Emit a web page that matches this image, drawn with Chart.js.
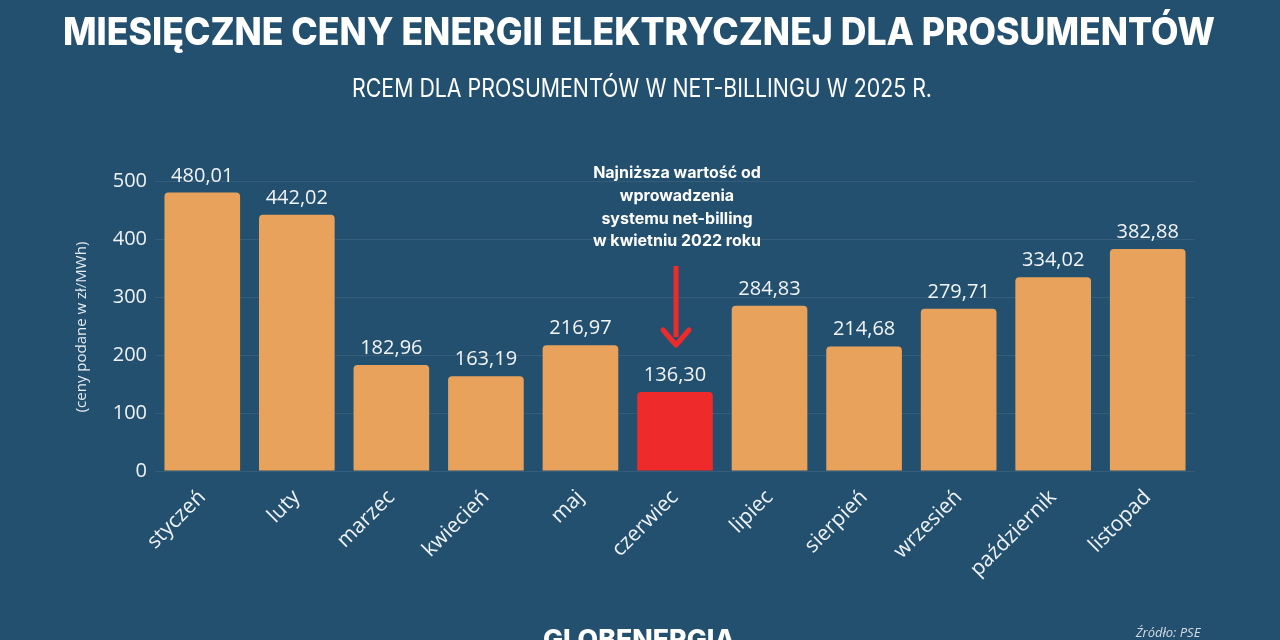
<!DOCTYPE html>
<html>
<head>
<meta charset="utf-8">
<script src="https://cdn.jsdelivr.net/npm/chart.js@4.4.1/dist/chart.umd.min.js"></script>
<style>
  html, body { margin: 0; padding: 0; background: #24506f; }
  #wrap { width: 1280px; height: 640px; position: relative; }
</style>
</head>
<body>
<div id="wrap"><canvas id="chart" width="1280" height="640"></canvas></div>
<script>
  // chart data
  const months = ['styczeń', 'luty', 'marzec', 'kwiecień', 'maj', 'czerwiec', 'lipiec', 'sierpień', 'wrzesień', 'październik', 'listopad'];
  const prices = [480.01, 442.02, 182.96, 163.19, 216.97, 136.30, 284.83, 214.68, 279.71, 334.02, 382.88];
  const highlightIndex = 5;
  const noteLines = ['Najniższa wartość od', 'wprowadzenia', 'systemu net-billing', 'w kwietniu 2022 roku'];

  const orange = '#e9a25b';
  const red = '#ee2a2a';
  const barColors = prices.map((v, i) => i === highlightIndex ? red : orange);

  // fit text horizontally to a given width
  function fitText(ctx, text, x, y, width) {
    const w = ctx.measureText(text).width;
    ctx.save();
    ctx.translate(x, y);
    ctx.scale(width / w, 1);
    ctx.fillText(text, 0, 0);
    ctx.restore();
  }

  const decor = {
    id: 'decor',
    afterDraw(chart) {
      const ctx = chart.ctx;
      ctx.save();
      ctx.fillStyle = '#ffffff';
      ctx.textAlign = 'center';
      ctx.textBaseline = 'alphabetic';

      // titles
      ctx.font = '800 38px Inter';
      fitText(ctx, 'MIESIĘCZNE CENY ENERGII ELEKTRYCZNEJ DLA PROSUMENTÓW', 639, 45, 1152);
      ctx.font = '400 25px Inter';
      fitText(ctx, 'RCEM DLA PROSUMENTÓW W NET-BILLINGU W 2025 R.', 642, 97, 580);

      // value labels
      const meta = chart.getDatasetMeta(0);
      ctx.font = '20px "Open Sans"';
      ctx.fillStyle = '#f2f4f6';
      meta.data.forEach((bar, i) => {
        ctx.fillText(prices[i].toFixed(2).replace('.', ','), bar.x, bar.y - 11);
      });

      // annotation
      const hb = meta.data[highlightIndex];
      ctx.fillStyle = '#ffffff';
      ctx.font = '700 16px Inter';
      const lineY = [178, 201, 224, 246];
      noteLines.forEach((t, i) => ctx.fillText(t, hb.x + 2, lineY[i]));

      // arrow
      ctx.strokeStyle = red;
      ctx.fillStyle = red;
      ctx.lineWidth = 5;
      ctx.beginPath();
      ctx.moveTo(hb.x + 1, 266);
      ctx.lineTo(hb.x + 1, 337);
      ctx.stroke();
      ctx.beginPath();
      ctx.lineWidth = 5;
      ctx.lineCap = 'round';
      ctx.lineJoin = 'round';
      ctx.moveTo(hb.x - 12, 330);
      ctx.lineTo(hb.x + 1, 345);
      ctx.lineTo(hb.x + 14, 330);
      ctx.stroke();

      // y title
      ctx.save();
      ctx.translate(82, 327);
      ctx.rotate(-Math.PI / 2);
      ctx.fillStyle = '#e6ecf1';
      ctx.font = '15px "Open Sans"';
      ctx.textBaseline = 'middle';
      ctx.fillText('(ceny podane w zł/MWh)', 0, 0);
      ctx.restore();

      // footer
      ctx.fillStyle = '#ffffff';
      ctx.font = '800 27px Inter';
      fitText(ctx, 'GLOBENERGIA', 639, 649, 192);
      ctx.fillStyle = '#d5dde4';
      ctx.font = 'italic 13px "Open Sans"';
      ctx.fillText('Źródło: PSE', 1168, 637);
      ctx.restore();
    }
  };

  const ctx = document.getElementById('chart').getContext('2d');
  new Chart(ctx, {
    type: 'bar',
    data: {
      labels: months,
      datasets: [{
        data: prices,
        backgroundColor: barColors,
        borderRadius: 4,
        borderSkipped: 'bottom',
        barPercentage: 1,
        categoryPercentage: 0.8
      }]
    },
    options: {
      responsive: false,
      animation: false,
      layout: { padding: { top: 181, right: 85, left: 0, bottom: 0 } },
      plugins: {
        legend: { display: false },
        tooltip: { enabled: false }
      },
      scales: {
        x: {
          grid: { display: false },
          border: { display: false },
          ticks: {
            color: '#eef2f5',
            font: { family: 'Open Sans', size: 21 },
            minRotation: 45,
            maxRotation: 45,
            padding: 6
          },
          afterFit: s => { s.height = 169; }
        },
        y: {
          min: 0,
          max: 500,
          grid: { color: 'rgba(255,255,255,0.08)', drawTicks: false },
          border: { display: false },
          ticks: {
            stepSize: 100,
            color: '#eef2f5',
            font: { family: 'Open Sans', size: 20 },
            padding: 8
          },
          afterFit: s => { s.width = 155; }
        }
      }
    },
    plugins: [decor]
  });
</script>
</body>
</html>
